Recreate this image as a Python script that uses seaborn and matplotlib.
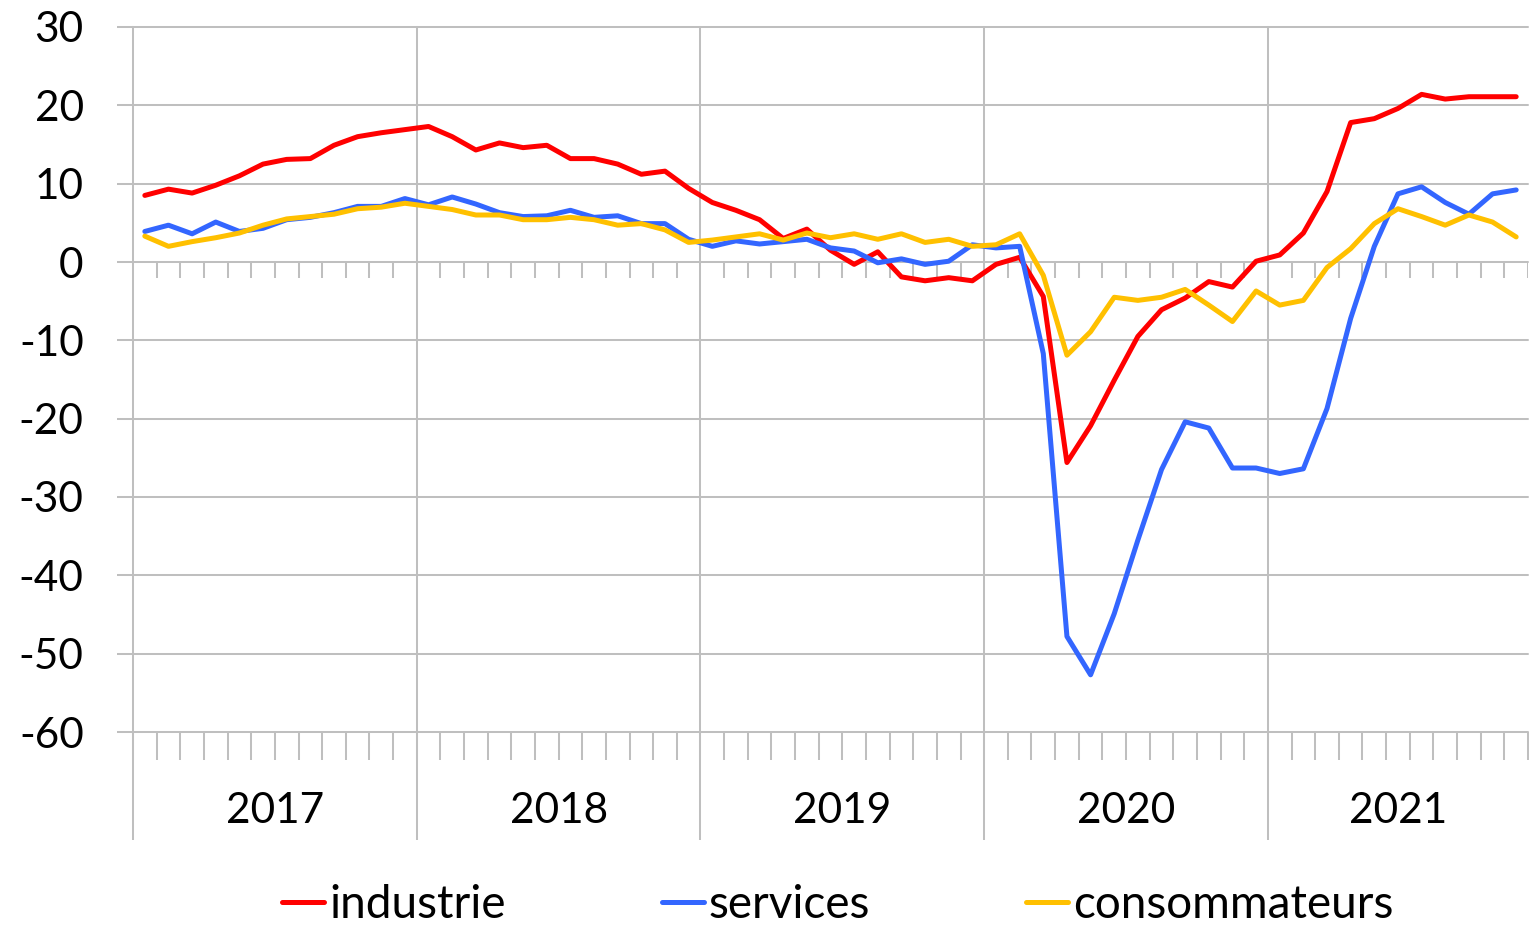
import numpy as np
import pandas as pd
import matplotlib
matplotlib.use("Agg")
import matplotlib.pyplot as plt
import matplotlib.transforms as mtransforms
import seaborn as sns

# Monthly balances of opinion, January 2017 to November 2021
years = ["2017", "2018", "2019", "2020", "2021"]

industrie = [
    8.5, 9.3, 8.8, 9.8, 11.0, 12.5, 13.1, 13.2, 14.9, 16.0, 16.5, 16.9,
    17.3, 16.0, 14.3, 15.2, 14.6, 14.9, 13.2, 13.2, 12.5, 11.2, 11.6, 9.4,
    7.6, 6.6, 5.4, 3.0, 4.2, 1.5, -0.3, 1.3, -1.9, -2.4, -2.0, -2.4,
    -0.3, 0.6, -4.4, -25.6, -20.9, -15.1, -9.5, -6.1, -4.6, -2.5, -3.2, 0.1,
    0.9, 3.7, 9.0, 17.8, 18.3, 19.6, 21.4, 20.8, 21.1, 21.1, 21.1,
]
services = [
    3.9, 4.7, 3.6, 5.1, 3.9, 4.3, 5.4, 5.7, 6.3, 7.1, 7.1, 8.1,
    7.3, 8.3, 7.4, 6.3, 5.8, 5.9, 6.6, 5.7, 5.9, 4.9, 4.9, 2.9,
    2.0, 2.7, 2.3, 2.6, 2.9, 1.8, 1.4, -0.1, 0.4, -0.3, 0.1, 2.2,
    1.8, 2.0, -11.7, -47.8, -52.7, -44.9, -35.5, -26.5, -20.4, -21.2, -26.3, -26.3,
    -27.0, -26.4, -18.7, -7.2, 2.0, 8.7, 9.6, 7.6, 6.1, 8.7, 9.2,
]
consommateurs = [
    3.3, 2.0, 2.6, 3.1, 3.7, 4.7, 5.5, 5.8, 6.1, 6.8, 7.0, 7.5,
    7.1, 6.7, 6.0, 6.0, 5.4, 5.4, 5.7, 5.4, 4.7, 4.9, 4.1, 2.5,
    2.8, 3.2, 3.6, 2.8, 3.7, 3.1, 3.6, 2.9, 3.6, 2.5, 2.9, 2.0,
    2.2, 3.6, -1.7, -11.9, -8.9, -4.5, -4.9, -4.5, -3.5, -5.5, -7.6, -3.7,
    -5.5, -4.9, -0.7, 1.7, 4.9, 6.8, 5.8, 4.7, 6.0, 5.1, 3.2,
]

series_names = ["industrie", "services", "consommateurs"]
palette = {"industrie": "#FF0000", "services": "#3366FF", "consommateurs": "#FFC000"}

n_months = len(industrie)
pos = np.arange(n_months) + 0.5  # points sit in the middle of each month slot

df = pd.concat(
    [
        pd.DataFrame({"pos": pos, "valeur": vals, "serie": name})
        for name, vals in zip(series_names, [industrie, services, consommateurs])
    ],
    ignore_index=True,
)

sns.set_theme(style="white")
plt.rcParams["font.family"] = ["Lato", "DejaVu Sans"]
plt.rcParams["axes.unicode_minus"] = False
plt.rcParams["text.color"] = "black"

grid_c = "#BFBFBF"
grid_w = 1.45
W, H = 1529, 926
fig = plt.figure(figsize=(W / 100, H / 100), dpi=100)
ax = fig.add_axes([133 / W, 1 - 732 / H, (1528 - 133) / W, (732 - 27) / H])

sns.lineplot(
    data=df, x="pos", y="valeur", hue="serie", hue_order=series_names,
    palette=palette, linewidth=3.6, sort=False, ax=ax, zorder=3,
)

ax.set_xlim(0, n_months)
ax.set_ylim(-60, 30)
ax.set_xlabel("")
ax.set_ylabel("")
for s in ax.spines.values():
    s.set_visible(False)

# y axis: gridlines every 10 with small outward ticks
ax.set_yticks(np.arange(-60, 31, 10))
ax.yaxis.grid(True, color=grid_c, linewidth=grid_w)
ax.tick_params(axis="y", which="major", length=11.5, width=grid_w, color=grid_c,
               pad=24, labelsize=30.5, labelcolor="black", left=True)

# x axis: month ticks below the frame, year separators running further down
month_edges = np.arange(0, n_months + 1)
year_edges = np.arange(0, n_months, 12)
ax.xaxis.remove_overlapping_locs = False
ax.set_xticks(month_edges)
ax.set_xticklabels([])
ax.set_xticks(year_edges, minor=True)
ax.xaxis.grid(True, which="minor", color=grid_c, linewidth=grid_w)
ax.tick_params(axis="x", which="major", length=20, width=grid_w, color=grid_c,
               bottom=True, direction="out")
ax.tick_params(axis="x", which="minor", length=78, width=grid_w, color=grid_c,
               bottom=True, direction="out")
ax.set_axisbelow(True)
for tk in ax.xaxis.get_minor_ticks() + ax.yaxis.get_major_ticks():
    tk.gridline.set_clip_on(False)

# month ticks hanging from the zero line
inner = [m for m in month_edges[1:] if m % 12 != 0]
ax.vlines(inner, -2.0, 0, colors=grid_c, linewidth=grid_w, zorder=1)

# year labels centred in each year band
trans = mtransforms.blended_transform_factory(ax.transData, fig.transFigure)
for i, yr in enumerate(years):
    start = i * 12
    end = min(start + 12, n_months)
    ax.text((start + end) / 2, 1 - 811 / H, yr, transform=trans, ha="center",
            va="center", fontsize=30.5, color="black")

sns.move_legend(
    ax, "center", bbox_to_anchor=(838 / W, 1 - 905 / H), bbox_transform=fig.transFigure,
    ncol=3, frameon=False, title=None, fontsize=33, handlelength=0.92,
    handletextpad=0.11, columnspacing=3.4,
)
for t in ax.get_legend().get_texts():
    t.set_color("black")
for ln in ax.get_legend().get_lines():
    ln.set_linewidth(3.6)

fig.savefig("out.png", dpi=100, facecolor="white")
